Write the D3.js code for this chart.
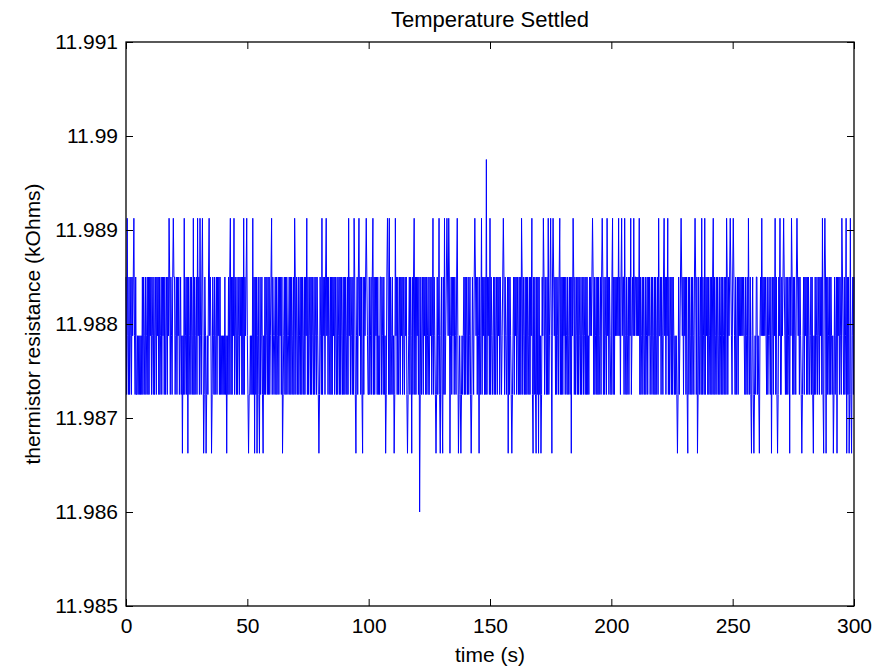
<!DOCTYPE html>
<html>
<head>
<meta charset="utf-8">
<script src="https://cdn.jsdelivr.net/npm/d3@7/dist/d3.min.js"></script>
<style>
  html, body { margin: 0; padding: 0; background: #fff; }
  svg { display: block; }
  text { font-family: "Liberation Sans", Arial, Helvetica, sans-serif; fill: #000; }
</style>
</head>
<body>
<svg id="chart" width="886" height="667"></svg>
<script>
// ---- data ----
const titleText = "Temperature Settled";
const xLabelText = "time (s)";
const yLabelText = "thermistor resistance (kOhms)";
const xTicks = [0, 50, 100, 150, 200, 250, 300];
const yTicks = [11.985, 11.986, 11.987, 11.988, 11.989, 11.99, 11.991];
const yTickLabels = ["11.985", "11.986", "11.987", "11.988", "11.989", "11.99", "11.991"];
// quantised resistance levels (kOhm)
const levelValues = [11.986, 11.986625, 11.98725, 11.987875, 11.9885, 11.989125, 11.98975];
// sampled band (level codes 2..4), one char per sample, 0.25 s apart
const bandCodes = [
  "42432423424342324223", "23232324243242342424", "34243242342434242342", "43424234243242432424",
  "42342434234232323234", "24342342432424234243", "42432423424342324234", "34243242342434242323",
  "23242343242432424342", "43242342434242324342", "32322323242434242342", "24234243242432424234",
  "42432342423424342432", "34242432342424324234", "24324234242432424342", "42342424324234243242",
  "43242434242342432424", "24342432423424243242", "42432424342432423424", "34242342423424342432",
  "24234243242434242324", "42432423424342324234", "23424342423424342432", "43424234243242432424",
  "34243242342434242342", "24342342432424234243", "42342423424324234243", "42432423423232323424",
  "24324234242432424342", "43242342434242324342", "42432342423424342432", "34242432342424324234",
  "24342432424234243242", "42432424342342423424", "24234243242432424234", "43242434242342432424",
  "24342432423424243242", "42342424324234243242", "42324343434242342424", "23424342423424342432",
  "24324243434343424234", "42432423424342343434", "43434342423424324234", "24342342432424234243",
  "34243242342434242342", "42432323232423424342", "43424234243242432424", "24324234242432424342",
  "42342424324234243242", "34242342423424342432", "42432423424343434343", "24234243242434242324",
  "42324343434343432423", "43242342434242324342", "24342432424234243242", "42432424342432423424",
  "34242432342424324234", "23424342423424342432", "42432342423424342432", "24324234242432424342",
  "4"
].join("");
// times (s) of excursions to level 11.989125
const highSpikeTimes = [0.5, 3.3, 17.8, 19.4, 24, 27.7, 29.5, 30.5, 31.6, 34.3, 42.9, 44.6, 48.4, 49.8,
  52.3, 60, 69.4, 74.5, 80.7, 82.4, 91.8, 94.1, 96, 98.9, 101.7, 107.7, 108.5, 111.1, 118.8, 126.4,
  129.1, 131.2, 132.2, 133.1, 136.6, 143.8, 146.6, 150, 155.5, 163.1, 167.2, 172, 174, 175, 176.1,
  178.8, 184.3, 192.2, 196.3, 198.3, 200.6, 202.9, 204.3, 205.4, 208, 209.3, 211.5, 219.4, 221.7,
  223.2, 228.7, 234.5, 237.3, 238.6, 242.1, 247.5, 249, 250.3, 256.5, 262, 267.5, 269.5, 270.9,
  274.3, 276.4, 287.1, 288.1, 295, 296.7, 298.4];
// times (s) of excursions to level 11.986625
const lowSpikeTimes = [23.2, 25.4, 31.9, 33, 35.3, 41.5, 50.4, 52.9, 53.9, 55.1, 56.6, 64.4, 79.5, 94.8,
  97.4, 107.1, 110.6, 116.1, 117.7, 127.7, 129.6, 130.6, 133.6, 137.1, 138, 142.2, 145.6, 157.5,
  158.9, 167.8, 168.9, 170.1, 171, 175.4, 183.6, 227.3, 231.5, 235.4, 257.8, 258.8, 261.1, 266.1,
  268.6, 273.6, 278.4, 283.2, 287.6, 288.6, 291.5, 292.9, 297, 298, 299];
// single outlier samples: [time, level code]
const outlierTimes = [120.9, 148.4];
const outlierCodes = [0, 6];

// ---- build series ----
const n = bandCodes.length;
const step = 300 / (n - 1);
const codes = Array.from(bandCodes, c => +c);
highSpikeTimes.forEach(t => { codes[Math.round(t / step)] = 5; });
lowSpikeTimes.forEach(t => { codes[Math.round(t / step)] = 1; });
outlierTimes.forEach((t, k) => { codes[Math.round(t / step)] = outlierCodes[k]; });
const series = codes.map((c, i) => ({ t: i * step, v: levelValues[c] }));

// ---- layout ----
const svg = d3.select("#chart");
const L = 126, T = 42, R = 854, B = 606;
const x = d3.scaleLinear().domain([0, 300]).range([L, R]);
const y = d3.scaleLinear().domain([11.985, 11.991]).range([B, T]);

// data line
const line = d3.line().x(d => x(d.t)).y(d => y(d.v));
svg.append("path")
  .datum(series)
  .attr("d", line)
  .attr("fill", "none")
  .attr("stroke", "#0000ff")
  .attr("stroke-width", 1);

// axes (MATLAB style, inward ticks on all sides)
const tickLen = 7;
const fs = 21;
const axB = d3.axisBottom(x).tickValues(xTicks).tickSize(-tickLen).tickPadding(12).tickFormat(d3.format("d"));
const axT = d3.axisTop(x).tickValues(xTicks).tickSize(-tickLen).tickFormat("");
const axL = d3.axisLeft(y).tickValues(yTicks).tickSize(-tickLen).tickPadding(8).tickFormat((d, i) => yTickLabels[i]);
const axR = d3.axisRight(y).tickValues(yTicks).tickSize(-tickLen).tickFormat("");

function styleAxis(g) {
  g.select(".domain").remove();
  g.selectAll(".tick line").attr("stroke", "#000").attr("stroke-width", 1);
  g.selectAll(".tick text").style("font-size", fs + "px").attr("fill", "#000");
}
svg.append("g").attr("transform", `translate(0,${B})`).call(axB).call(styleAxis);
svg.append("g").attr("transform", `translate(0,${T})`).call(axT).call(styleAxis);
svg.append("g").attr("transform", `translate(${L},0)`).call(axL).call(styleAxis);
svg.append("g").attr("transform", `translate(${R},0)`).call(axR).call(styleAxis);

// box
svg.append("rect")
  .attr("x", L).attr("y", T).attr("width", R - L).attr("height", B - T)
  .attr("fill", "none").attr("stroke", "#000").attr("stroke-width", 1.3);

// title and labels
svg.append("text").attr("x", (L + R) / 2).attr("y", 27)
  .attr("text-anchor", "middle").style("font-size", "22px").text(titleText);
svg.append("text").attr("x", (L + R) / 2).attr("y", 662)
  .attr("text-anchor", "middle").style("font-size", fs + "px").text(xLabelText);
svg.append("text")
  .attr("transform", `translate(40,${(T + B) / 2}) rotate(-90)`)
  .attr("text-anchor", "middle").style("font-size", fs + "px").text(yLabelText);
</script>
</body>
</html>
